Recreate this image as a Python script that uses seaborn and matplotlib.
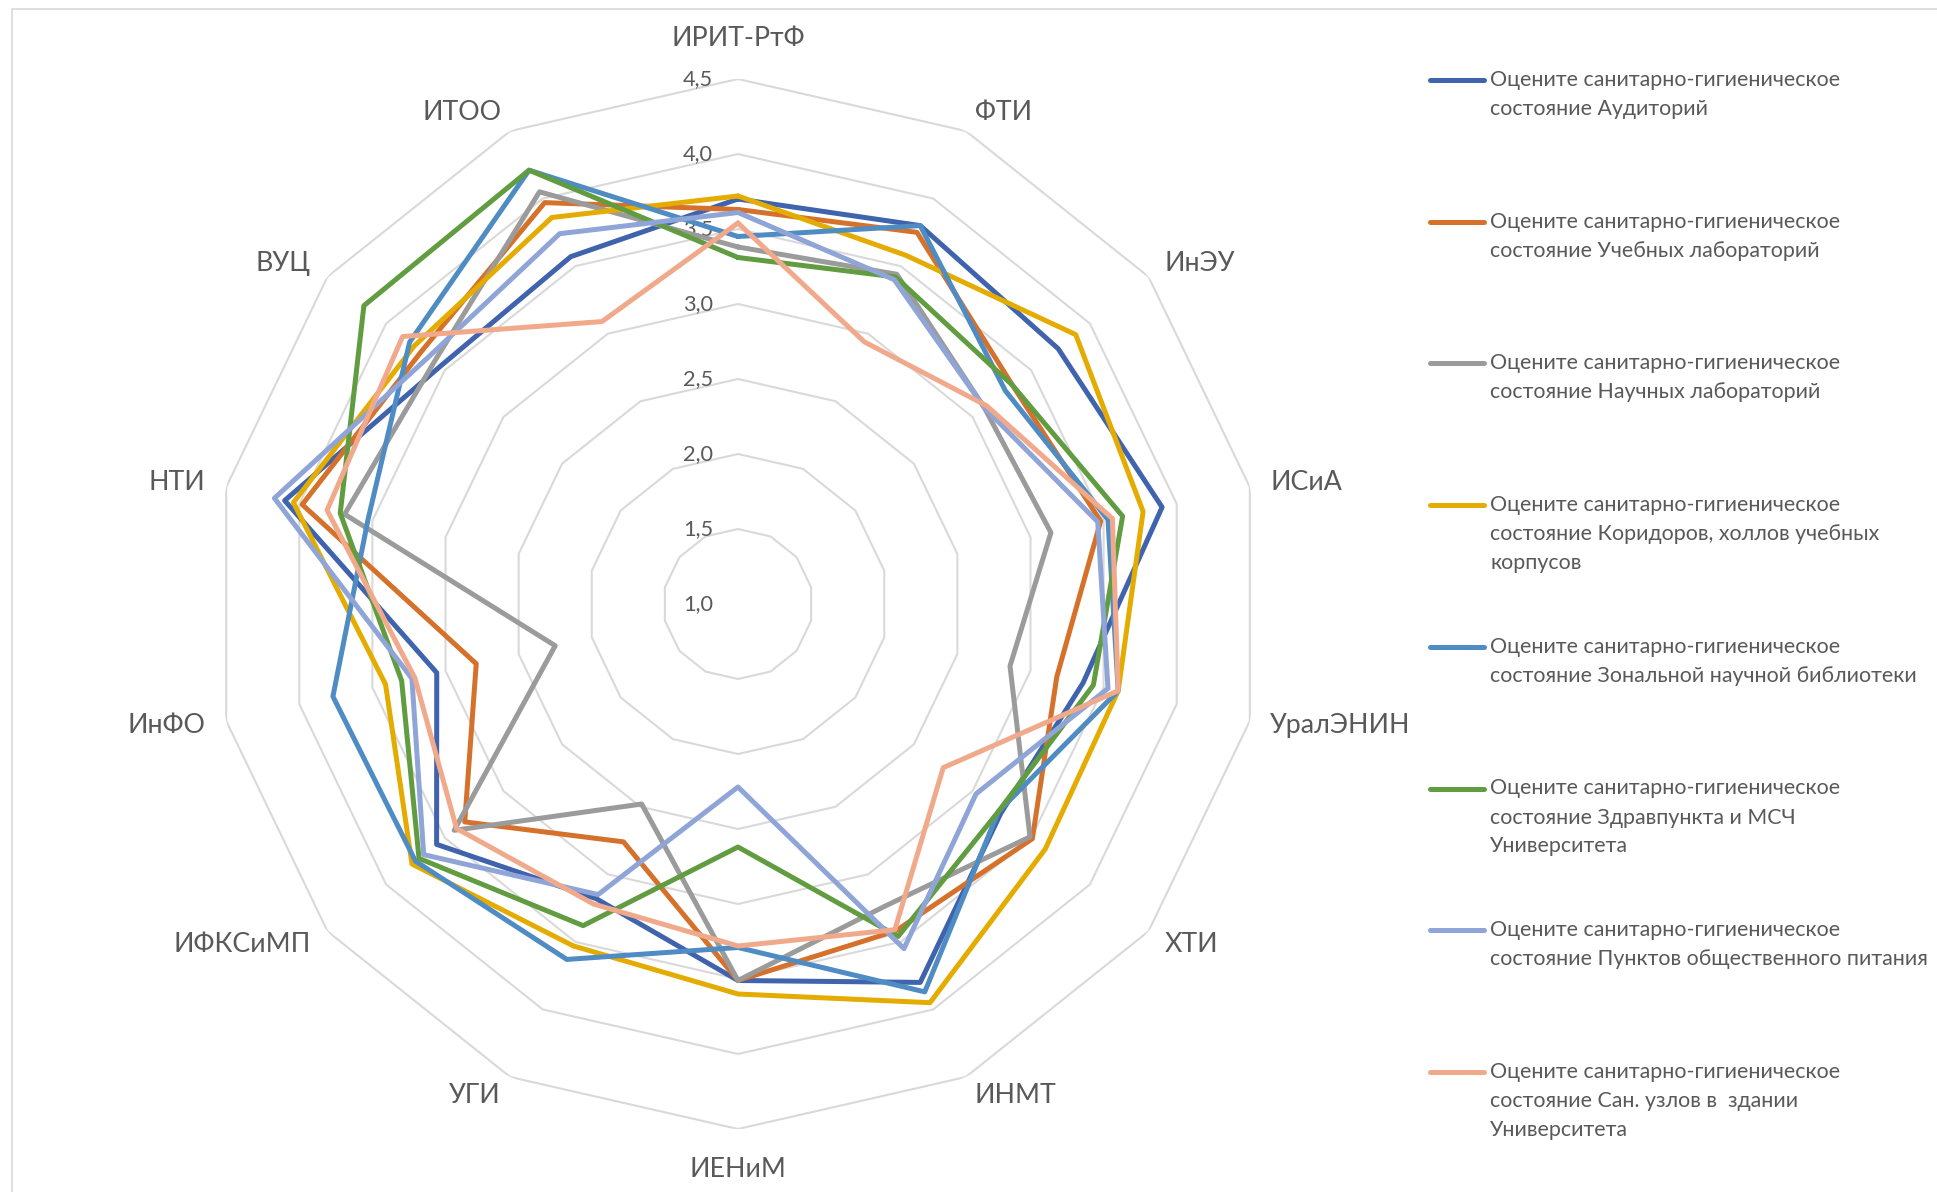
import numpy as np
import pandas as pd
import matplotlib
matplotlib.use('Agg')
import matplotlib.pyplot as plt
from matplotlib.lines import Line2D
from matplotlib.patches import Rectangle
import seaborn as sns

# data
categories = ['ИРИТ-РтФ', 'ФТИ', 'ИнЭУ', 'ИСиА', 'УралЭНИН', 'ХТИ', 'ИНМТ',
              'ИЕНиМ', 'УГИ', 'ИФКСиМП', 'ИнФО', 'НТИ', 'ВУЦ', 'ИТОО']

head = 'Оцените санитарно-гигиеническое\n'
series_names = [
    head + 'состояние Аудиторий',
    head + 'состояние Учебных лабораторий',
    head + 'состояние Научных лабораторий',
    head + 'состояние Коридоров, холлов учебных\nкорпусов',
    head + 'состояние Зональной научной библиотеки',
    head + 'состояние Здравпункта и МСЧ\nУниверситета',
    head + 'состояние Пунктов общественного питания',
    head + 'состояние Сан. узлов в  здании\nУниверситета',
]

auditorii = [3.70, 3.80, 3.73, 3.90, 3.36, 3.24, 3.80, 3.51, 3.18, 3.57, 3.06, 4.10, 3.54, 3.57]
ucheb_lab = [3.63, 3.75, 3.34, 3.48, 3.18, 3.51, 3.42, 3.51, 2.76, 3.33, 2.79, 3.98, 3.70, 3.97]
nauch_lab = [3.38, 3.44, 3.10, 3.14, 2.86, 3.49, 3.24, 3.51, 2.48, 3.42, 2.25, 3.69, 3.59, 4.05]
koridory = [3.72, 3.58, 3.88, 3.77, 3.60, 3.62, 3.95, 3.60, 3.53, 3.78, 3.41, 4.04, 3.76, 3.86]
biblioteka = [3.45, 3.80, 3.28, 3.53, 3.60, 3.22, 3.87, 3.29, 3.63, 3.75, 3.77, 3.53, 3.80, 4.21]
zdravpunkt = [3.31, 3.42, 3.34, 3.63, 3.43, 3.22, 3.46, 2.62, 3.38, 3.72, 3.30, 3.72, 4.19, 4.21]
pitanie = [3.61, 3.40, 3.10, 3.46, 3.53, 3.03, 3.55, 2.22, 3.15, 3.68, 3.23, 4.17, 3.64, 3.74]
sanuzly = [3.54, 2.94, 3.12, 3.56, 3.60, 2.75, 3.41, 3.28, 3.22, 3.40, 3.21, 3.81, 3.86, 3.09]

all_values = [auditorii, ucheb_lab, nauch_lab, koridory, biblioteka, zdravpunkt, pitanie, sanuzly]
colors = ['#3F63AD', '#D6712C', '#9B9B9B', '#E4AC00', '#4F8CC3', '#619C41', '#8FA5D7', '#F1A98C']
tick_values = [1.0, 1.5, 2.0, 2.5, 3.0, 3.5, 4.0, 4.5]

sns.set_theme(style='white')
plt.rcParams['font.family'] = ['Lato', 'DejaVu Sans']
text_color = '#595959'

W, H = 1937, 1192
fig = plt.figure(figsize=(W / 100, H / 100), dpi=100)
renderer = fig.canvas.get_renderer()


def fit_size(text, px, base=12):
    t = fig.text(0, 0, text, fontsize=base)
    w = t.get_window_extent(renderer).width
    t.remove()
    return base * px / w


leg_fs = fit_size('состояние Пунктов общественного питания', 438)
cat_fs = fit_size('ИРИТ-РтФ', 133)
tick_fs = fit_size('4,5', 30)

# chart area frame
fig.add_artist(Rectangle((12 / W, -0.01), 1.2, (H - 9) / H + 0.01, transform=fig.transFigure,
                         fill=False, ec='#D9D9D9', lw=1.2))

cx, cy, R = 738, 604, 525
ax = fig.add_axes([(cx - R) / W, (H - cy - R) / H, 2 * R / W, 2 * R / H], projection='polar')
ax.set_theta_zero_location('N')
ax.set_theta_direction(-1)

n = len(categories)
angles = np.linspace(0, 2 * np.pi, n, endpoint=False)
theta_closed = np.append(angles, 2 * np.pi)

rows = []
for name, vals in zip(series_names, all_values):
    for t, v in zip(theta_closed, vals + vals[:1]):
        rows.append({'theta': t, 'value': v, 'series': name})
df = pd.DataFrame(rows)

# polygon grid
for lv in tick_values[1:]:
    ax.plot(theta_closed, [lv] * (n + 1), color='#D9D9D9', lw=1.5, zorder=1)

sns.lineplot(data=df, x='theta', y='value', hue='series', hue_order=series_names,
             palette=colors, sort=False, estimator=None, lw=3.6, legend=False,
             solid_joinstyle='round', ax=ax, zorder=3)

ax.set_ylim(1, 4.5)
ax.set_xticks([])
ax.set_yticks([])
ax.grid(False)
ax.spines['polar'].set_visible(False)
ax.patch.set_alpha(0)
ax.set_xlabel('')
ax.set_ylabel('')

# category labels
for ang, cat in zip(angles, categories):
    s = np.sin(ang)
    if abs(s) < 1e-6:
        ax.text(ang, 4.77, cat, ha='center', va='center', fontsize=cat_fs, color=text_color)
    else:
        ax.text(ang, 4.64, cat, ha='left' if s > 0 else 'right', va='center',
                fontsize=cat_fs, color=text_color)

# value labels
for lv in tick_values:
    ax.annotate(f'{lv:.1f}'.replace('.', ','), xy=(0, lv), xytext=(-25, 0),
                textcoords='offset pixels', ha='right', va='center',
                fontsize=tick_fs, color=text_color, zorder=2)

# legend
for i, (name, col) in enumerate(zip(series_names, colors)):
    y = 80 + i * 141.7
    fig.add_artist(Line2D([1430 / W, 1484 / W], [1 - y / H, 1 - y / H], transform=fig.transFigure,
                          color=col, lw=3.6, solid_capstyle='round'))
    for k, part in enumerate(name.split('\n')):
        fig.text(1490 / W, 1 - (y + k * 29) / H, part, ha='left', va='center',
                 fontsize=leg_fs, color=text_color)

fig.savefig('out.png', dpi=100)
